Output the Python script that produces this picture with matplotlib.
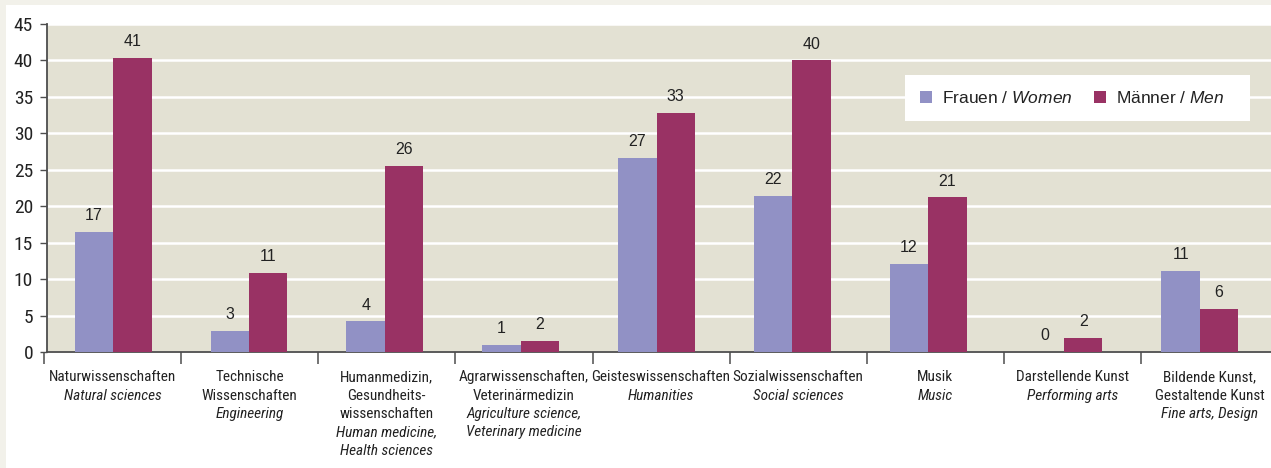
import matplotlib
matplotlib.use("Agg")
import matplotlib.pyplot as plt
import matplotlib.transforms as mtransforms
from matplotlib import font_manager as fm
from matplotlib.patches import Rectangle
import numpy as np

# Farben
col_women = '#9191c5'
col_men = '#993264'
col_plot_bg = '#e3e1d3'
col_outer = '#f2f1ea'
col_axis = '#4d4d4d'
col_text = '#222222'

# schmale Schrift fuer Achsenbeschriftung, falls vorhanden
available = {f.name for f in fm.fontManager.ttflist}
narrow_font = next((f for f in ['Roboto Condensed', 'Archivo Narrow', 'PT Sans Narrow',
                                'Liberation Sans Narrow'] if f in available), 'Roboto')
narrow = [narrow_font, 'DejaVu Sans']
regular = ['Liberation Sans', 'DejaVu Sans']

plt.rcParams['mathtext.fontset'] = 'custom'
plt.rcParams['mathtext.rm'] = 'Liberation Sans'
plt.rcParams['mathtext.it'] = 'Liberation Sans:italic'

# Daten
labels_de = [
    ["Naturwissenschaften"],
    ["Technische", "Wissenschaften"],
    ["Humanmedizin,", "Gesundheits-", "wissenschaften"],
    ["Agrarwissenschaften,", "Veterinärmedizin"],
    ["Geisteswissenschaften"],
    ["Sozialwissenschaften"],
    ["Musik"],
    ["Darstellende Kunst"],
    ["Bildende Kunst,", "Gestaltende Kunst"],
]
labels_en = [
    ["Natural sciences"],
    ["Engineering"],
    ["Human medicine,", "Health sciences"],
    ["Agriculture science,", "Veterinary medicine"],
    ["Humanities"],
    ["Social sciences"],
    ["Music"],
    ["Performing arts"],
    ["Fine arts, Design"],
]
women = [16.5, 2.9, 4.2, 1.0, 26.6, 21.4, 12.1, 0.0, 11.1]
men = [40.4, 10.8, 25.5, 1.5, 32.8, 40.0, 21.2, 1.9, 5.9]
women_lbl = [17, 3, 4, 1, 27, 22, 12, 0, 11]
men_lbl = [41, 11, 26, 2, 33, 40, 21, 2, 6]
yticks = [0, 5, 10, 15, 20, 25, 30, 35, 40, 45]

W, H = 1271, 468
fig = plt.figure(figsize=(W / 100, H / 100), dpi=100)
fig.patch.set_facecolor(col_outer)
fig.patches.append(Rectangle((6 / W, 0), 1, 1 - 5 / H, transform=fig.transFigure,
                             facecolor='white', edgecolor='none', zorder=-10))

ax = fig.add_axes([47 / W, (H - 352) / H, 1 - 47 / W, 328 / H])
ax.set_facecolor(col_plot_bg)

x = np.arange(len(women))
bw = 0.283
ax.bar(x - bw / 2, women, bw, color=col_women, zorder=3, label='Frauen / $\\mathit{Women}$')
ax.bar(x + bw / 2, men, bw, color=col_men, zorder=3, label='Männer / $\\mathit{Men}$   ')

for xi, v, t in zip(x - bw / 2, women, women_lbl):
    ax.annotate(str(t), (xi, v), xytext=(0, 8.5), textcoords='offset points',
                ha='center', va='baseline', fontsize=11.5, color=col_text, family=regular)
for xi, v, t in zip(x + bw / 2, men, men_lbl):
    ax.annotate(str(t), (xi, v), xytext=(0, 8.5), textcoords='offset points',
                ha='center', va='baseline', fontsize=11.5, color=col_text, family=regular)

ax.set_ylim(0, 45)
ax.set_xlim(-0.4875, 8.524)
ax.set_yticks(yticks)
ax.set_yticklabels([str(v) for v in yticks], family=narrow, fontsize=14, color=col_text)
ax.tick_params(axis='y', length=5, width=1, color=col_axis, pad=5)
ax.set_xticks([])
ax.yaxis.grid(True, color='white', linewidth=1.8, zorder=1)
ax.set_axisbelow(True)
for s in ['top', 'right']:
    ax.spines[s].set_visible(False)
for s in ['left', 'bottom']:
    ax.spines[s].set_color(col_axis)
    ax.spines[s].set_linewidth(1.3)

# Kategorie-Grenzen und Beschriftungen (Ticks etwas weiter als Balken)
step = 1.0096
start = -0.5096
trans = mtransforms.blended_transform_factory(ax.transData, ax.transAxes)
bounds = start + step * np.arange(len(women) + 1)
ax.vlines(bounds, -12 / 328, 0, transform=trans, color=col_axis, lw=1.1, clip_on=False)

line = 13.2
for i, (de, en) in enumerate(zip(labels_de, labels_en)):
    cx = start + step * (i + 0.5)
    k = 0
    for txt in de:
        ax.annotate(txt, (cx, 0), xycoords=trans, xytext=(0, -21.2 - k * line),
                    textcoords='offset points', ha='center', va='baseline',
                    fontsize=11, family=narrow, color=col_text)
        k += 1
    for txt in en:
        ax.annotate(txt, (cx, 0), xycoords=trans, xytext=(0, -21.2 - k * line),
                    textcoords='offset points', ha='center', va='baseline',
                    fontsize=11, family=narrow, style='italic', color=col_text)
        k += 1

leg = ax.legend(loc='upper right', bbox_to_anchor=(1250 / W, 1 - 75 / H),
                bbox_transform=fig.transFigure, ncol=2, frameon=True, fancybox=False,
                facecolor='white', edgecolor='none', framealpha=1, borderaxespad=0,
                borderpad=0.85, handlelength=0.7, handleheight=0.7, handletextpad=0.6,
                columnspacing=1.2, prop={'family': regular, 'size': 12.5})
for t in leg.get_texts():
    t.set_color(col_text)

fig.savefig('out.png', dpi=100, facecolor=fig.get_facecolor())
